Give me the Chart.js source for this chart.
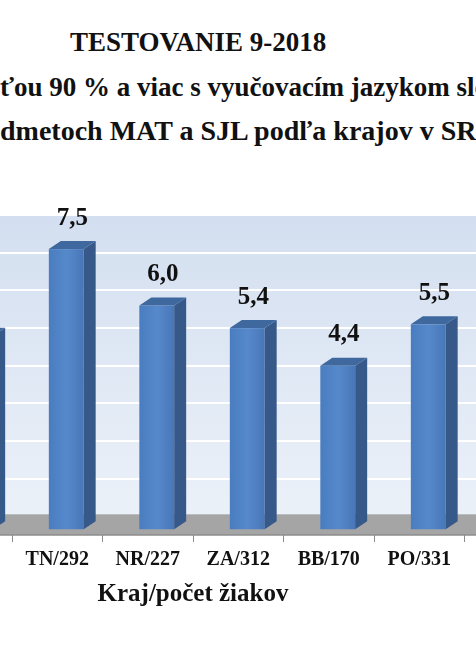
<!DOCTYPE html>
<html><head><meta charset="utf-8">
<script src="https://cdn.jsdelivr.net/npm/chart.js@4"></script>
<style>
html,body{margin:0;padding:0;background:#fff;width:476px;height:650px;overflow:hidden;position:relative;font-family:"Liberation Serif",serif;}
.t{position:absolute;white-space:nowrap;font-weight:bold;color:#111;line-height:1;}
#wrap{position:absolute;left:-180px;top:0;width:750px;height:650px;}
</style></head><body>
<div class="t" style="left:70px;top:29px;font-size:27px;">TESTOVANIE 9-2018</div>
<div class="t" style="right:476px;top:74px;font-size:27px;">Podiel žiakov s úspešnos</div>
<div class="t" style="left:0px;top:74px;font-size:27px;">ťou 90 % a viac s vyučovacím jazykom slovenským</div>
<div class="t" style="right:476px;top:117px;font-size:27px;">v pre</div>
<div class="t" style="left:0px;top:117px;font-size:28px;">dmetoch MAT a SJL podľa krajov v SR</div>
<div id="wrap"><canvas id="c"></canvas></div>
<script>
const categories = ["BA/420","TT/268","TN/292","NR/227","ZA/312","BB/170","PO/331","KE/305"];
const values = [6.4, 5.2, 7.5, 6.0, 5.4, 4.4, 5.5, 4.8];
const valueLabels = ["6,4","5,2","7,5","6,0","5,4","4,4","5,5","4,8"];
const gridTicks = [0.4,1.4,2.4,3.4,4.4,5.4,6.4,7.4];

const bar3d = {
  id:'bar3d',
  beforeDraw(chart){
    const {ctx, chartArea:a} = chart;
    const g = ctx.createLinearGradient(0,a.top,0,a.bottom);
    g.addColorStop(0,'#d3dff0'); g.addColorStop(1,'#edf2f9');
    ctx.fillStyle = g; ctx.fillRect(a.left,a.top,a.right-a.left,a.bottom-a.top);
  },
  beforeDatasetsDraw(chart){
    const {ctx, chartArea:a, scales:{y}} = chart;
    const ft = y.getPixelForValue(0.45);
    ctx.fillStyle='#a5a5a5'; ctx.fillRect(a.left,ft,a.right-a.left,a.bottom-ft);
    ctx.strokeStyle='#8c8c8c'; ctx.lineWidth=1.5;
    ctx.beginPath(); ctx.moveTo(a.left,a.bottom); ctx.lineTo(a.right,a.bottom); ctx.stroke();
  },
  afterDatasetsDraw(chart){
    const {ctx} = chart;
    const meta = chart.getDatasetMeta(0);
    const d=12, r=8;
    meta.data.forEach((el,i)=>{
      const w = el.width, l = el.x - w/2 + 9, rt = l + w, t = el.y, b = el.base - 2;
      const fg = ctx.createLinearGradient(l,0,rt,0);
      fg.addColorStop(0,'#4a7cc0'); fg.addColorStop(0.5,'#5689cc'); fg.addColorStop(1,'#4877b8');
      ctx.fillStyle=fg; ctx.fillRect(l,t,w,b-t);
      ctx.fillStyle='#36598a';
      ctx.beginPath(); ctx.moveTo(rt,t); ctx.lineTo(rt+d,t-r); ctx.lineTo(rt+d,b-r); ctx.lineTo(rt,b); ctx.closePath(); ctx.fill();
      ctx.fillStyle='#3f689e';
      ctx.beginPath(); ctx.moveTo(l,t); ctx.lineTo(l+d,t-r); ctx.lineTo(rt+d,t-r); ctx.lineTo(rt,t); ctx.closePath(); ctx.fill();
      ctx.fillStyle='#111'; ctx.font='bold 25px "Liberation Serif"'; ctx.textAlign='center'; ctx.textBaseline='middle';
      ctx.fillText(valueLabels[i], l+w/2+6, t-31);
    });
  }
};

new Chart(document.getElementById('c'),{
  type:'bar',
  data:{labels:categories,datasets:[{data:values,backgroundColor:'rgba(0,0,0,0)',barPercentage:0.77,categoryPercentage:0.5}]},
  options:{
    responsive:true,maintainAspectRatio:false,animation:false,
    layout:{padding:{left:11,right:15,top:216,bottom:36}},
    plugins:{legend:{display:false},tooltip:{enabled:false}},
    scales:{
      y:{min:-0.1,max:8.38,afterBuildTicks(s){s.ticks=gridTicks.map(v=>({value:v}));},
         ticks:{display:false},border:{display:false},grid:{color:'#ffffff',lineWidth:2,drawTicks:false}},
      x:{border:{display:false},
         grid:{offset:true,drawOnChartArea:false,drawTicks:true,tickLength:7,color:'#8c8c8c'},
         ticks:{color:'#111',font:{family:'Liberation Serif',size:20,weight:'bold'},padding:6},
         title:{display:true,text:'Kraj/počet žiakov',color:'#111',font:{family:'Liberation Serif',size:25,weight:'bold'},padding:{top:2}}}
    }
  },
  plugins:[bar3d]
});
</script>
</body></html>
